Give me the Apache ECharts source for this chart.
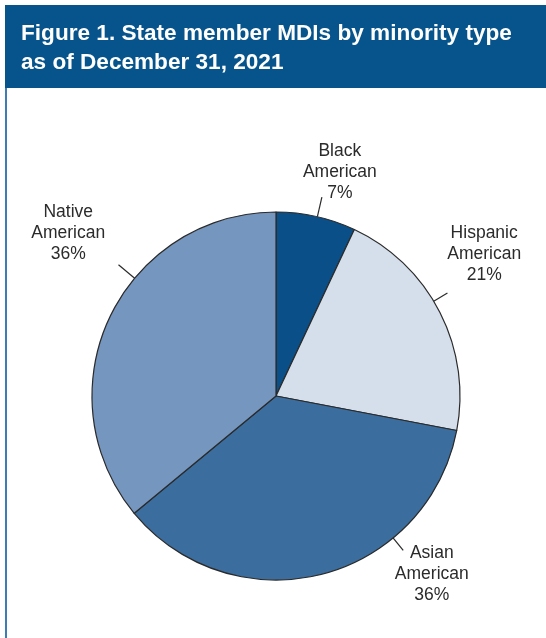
<!DOCTYPE html>
<html>
<head>
<meta charset="utf-8">
<script src="https://cdn.jsdelivr.net/npm/echarts@6/dist/echarts.min.js"></script>
<style>
  html, body { margin: 0; padding: 0; background: #ffffff; }
  #chart { width: 546px; height: 638px; }
</style>
</head>
<body>
<div id="chart"></div>
<script>
// ---- Data ----
const categories = ['Black American', 'Hispanic American', 'Asian American', 'Native American'];
const shares = [7, 21, 36, 36]; // percent of state member MDIs
const titleLines = ['Figure 1. State member MDIs by minority type', 'as of December 31, 2021'];

// ---- Styles / layout ----
const sliceColors = ['#0a4f88', '#d5dfeb', '#3b6e9f', '#7596bf'];
const pieCenter = [276, 396];
const pieRadius = 184;
// per-label annotation placement (polar, degrees clockwise from 12 o'clock)
const labelPlacement = [
  { lineAngle: 13,    lineLen: 20, textAngle: 15.9, textDist: 233 },
  { lineAngle: 59,    lineLen: 16, textAngle: 55.7, textDist: 252 },
  { lineAngle: 140.5, lineLen: 16, textAngle: 138.9, textDist: 237 },
  { lineAngle: 309.8, lineLen: 21, textAngle: 308.1, textDist: 264 }
];
function polar(angleDeg, r) {
  const a = angleDeg * Math.PI / 180;
  return [pieCenter[0] + r * Math.sin(a), pieCenter[1] - r * Math.cos(a)];
}

const chart = echarts.init(document.getElementById('chart'), null, { renderer: 'canvas' });

const option = {
  animation: false,
  backgroundColor: '#ffffff',
  graphic: [
    {
      type: 'rect',
      shape: { x: 5, y: 5, width: 541, height: 83 },
      style: { fill: '#06548b' },
      silent: true, z: 0
    },
    {
      type: 'line',
      shape: { x1: 6, y1: 88, x2: 6, y2: 638 },
      style: { stroke: '#3c7db6', lineWidth: 2 },
      silent: true, z: 0
    }
  ],
  title: {
    text: titleLines.join('\n'),
    left: 16,
    top: 14,
    textStyle: {
      color: '#ffffff',
      fontFamily: 'Liberation Sans, Arial, sans-serif',
      fontWeight: 'bold',
      fontSize: 22.6,
      lineHeight: 29
    },
    z: 5
  },
  series: [{
    type: 'pie',
    center: pieCenter,
    radius: pieRadius,
    startAngle: 90,
    clockwise: true,
    silent: true,
    data: categories.map((name, i) => ({
      name: name,
      value: shares[i],
      itemStyle: { color: sliceColors[i] }
    })),
    itemStyle: { borderColor: '#2a2a2a', borderWidth: 1.2 },
    label: {
      show: true,
      position: 'outside',
      formatter: p => p.name.replace(' ', '\n') + '\n' + p.value + '%',
      color: '#2b2b2b',
      fontFamily: 'Liberation Sans, Arial, sans-serif',
      fontSize: 17.5,
      lineHeight: 21
    },
    labelLine: {
      show: true,
      length: 18,
      length2: 0,
      lineStyle: { color: '#2b2b2b', width: 1.2 }
    },
    labelLayout: function (params) {
      const pl = labelPlacement[params.dataIndex];
      const p0 = polar(pl.lineAngle, pieRadius);
      const p1 = polar(pl.lineAngle, pieRadius + pl.lineLen);
      const t = polar(pl.textAngle, pl.textDist);
      return {
        x: t[0],
        y: t[1],
        align: 'center',
        verticalAlign: 'middle',
        labelLinePoints: [p0, p1, p1]
      };
    }
  }]
};

chart.setOption(option);
</script>
</body>
</html>
